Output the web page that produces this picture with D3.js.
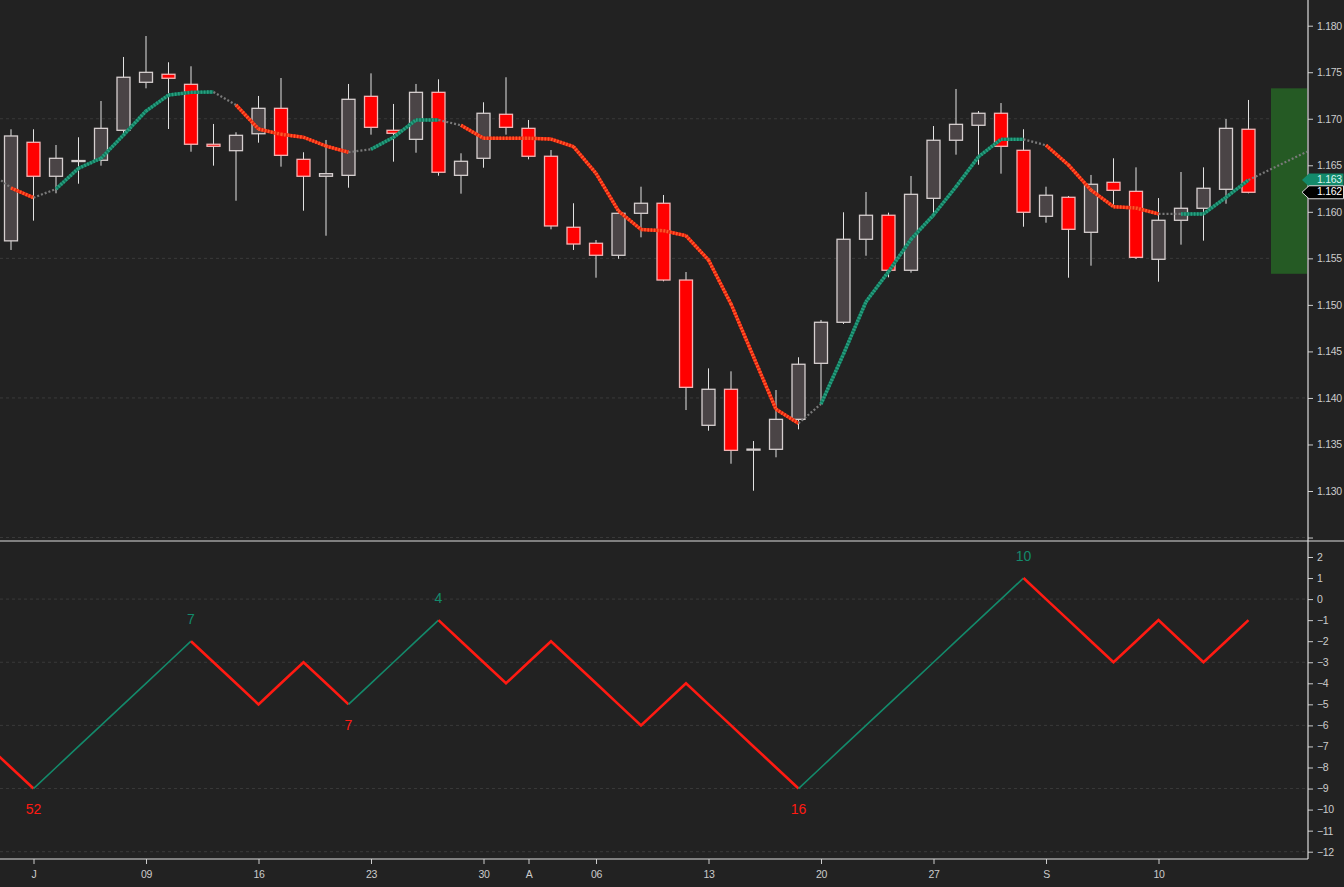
<!DOCTYPE html>
<html>
<head>
<meta charset="utf-8">
<script src="https://cdn.jsdelivr.net/npm/d3@7"></script>
<style>
  body { margin: 0; background: #222222; }
  svg { display: block; }
</style>
</head>
<body>
<div id="chart"></div>
<script>
// bar dates, index 0 = Jun 29 2018 (one earlier bar, Jun 28, only feeds the lines)
var dates = ["06-29",
  "07-02","07-03","07-04","07-05","07-06","07-09","07-10","07-11","07-12","07-13",
  "07-16","07-17","07-18","07-19","07-20","07-23","07-24","07-25","07-26","07-27",
  "07-30","07-31","08-01","08-02","08-03","08-06","08-07","08-08","08-09","08-10",
  "08-13","08-14","08-15","08-16","08-17","08-20","08-21","08-22","08-23","08-24",
  "08-27","08-28","08-29","08-30","08-31","09-03","09-04","09-05","09-06","09-07",
  "09-10","09-11","09-12","09-13","09-14"];

var opens = [1.15688,
  1.16747,1.16382,1.16541,1.16554,1.16876,1.17392,1.17478,1.17370,1.16726,1.16657,
  1.16839,1.17112,1.16564,1.16382,1.16392,1.17241,1.16876,1.16779,1.17284,1.16392,
  1.16575,1.17048,1.16897,1.16597,1.15834,1.15662,1.15533,1.15984,1.16092,1.15267,
  1.13706,1.14093,1.13440,1.13448,1.13770,1.14372,1.14813,1.15705,1.15963,1.15372,
  1.16145,1.16769,1.16930,1.17059,1.16661,1.15952,1.16156,1.15780,1.16317,1.16220,
  1.15490,1.15909,1.16038,1.16242,1.16887];
var highs = [1.16887,
  1.16887,1.16718,1.16801,1.17191,1.17664,1.17889,1.17607,1.17564,1.16944,1.16855,
  1.17245,1.17438,1.16640,1.16772,1.17374,1.17488,1.17159,1.17374,1.17424,1.16629,
  1.17177,1.17446,1.16987,1.16664,1.16092,1.15697,1.16020,1.16270,1.16181,1.15353,
  1.14318,1.14286,1.13537,1.14085,1.14437,1.14838,1.15995,1.16213,1.15991,1.16385,
  1.16922,1.17320,1.17083,1.17169,1.16887,1.16270,1.16170,1.16396,1.16575,1.16478,
  1.16148,1.16428,1.16478,1.16997,1.17202];
var lows = [1.15590,
  1.15905,1.16199,1.16302,1.16496,1.16826,1.17327,1.16890,1.16646,1.16496,1.16119,
  1.16743,1.16485,1.16012,1.15743,1.16259,1.16829,1.16539,1.16635,1.16388,1.16195,
  1.16474,1.16829,1.16564,1.15812,1.15590,1.15292,1.15496,1.15726,1.15253,1.13870,
  1.13648,1.13293,1.13003,1.13362,1.13663,1.13949,1.14795,1.15528,1.15296,1.15346,
  1.15941,1.16614,1.16506,1.16410,1.15840,1.15883,1.15292,1.15421,1.16055,1.15493,
  1.15249,1.15647,1.15690,1.16087,1.16199];
var closes = [1.16815,
  1.16382,1.16575,1.16551,1.16897,1.17446,1.17499,1.17435,1.16726,1.16704,1.16822,
  1.17112,1.16607,1.16382,1.16410,1.17209,1.16908,1.16844,1.17284,1.16425,1.16543,
  1.17059,1.16908,1.16597,1.15848,1.15654,1.15533,1.15984,1.16092,1.15267,1.14114,
  1.14093,1.13437,1.13450,1.13770,1.14362,1.14813,1.15705,1.15963,1.15372,1.16188,
  1.16769,1.16940,1.17059,1.16704,1.15995,1.16178,1.15812,1.16296,1.16231,1.15511,
  1.15909,1.16038,1.16253,1.16897,1.16210];

// moving average, first value belongs to bar -1 (Jun 28)
var maValues = [1.16444,
  1.16256,1.16152,1.16245,1.16468,1.16575,1.16825,1.17083,1.17255,1.17284,1.17288,
  1.17148,1.16890,1.16833,1.16801,1.16707,1.16640,1.16672,1.16801,1.16987,1.16987,
  1.16930,1.16790,1.16790,1.16790,1.16782,1.16700,1.16414,1.16009,1.15810,1.15797,
  1.15743,1.15482,1.15010,1.14443,1.13878,1.13727,1.13935,1.14472,1.15034,1.15357,
  1.15705,1.15966,1.16270,1.16592,1.16779,1.16779,1.16715,1.16503,1.16234,1.16055,
  1.16041,1.15977,1.15977,1.15977,1.16156,1.16342];
// colour state of each ma step into bar i: u = rising, d = falling, n = neutral
var maTrend = ["n","d","n","u","u","u","u","u","u","u","n","d","d","d","d","d","n","u","u","u",
  "n","d","d","d","d","d","d","d","d","d","d","d","d","d","d","d","n","u","u","u",
  "u","u","u","u","u","u","n","d","d","d","d","d","n","u","u","u"];
// projected ma, past the last bar
var maProjection = [[55, 1.16342], [57.6, 1.16646]];
// projected range box
var boxRange = {from: 56, to: 57.6, top: 1.17327, bottom: 1.15334};

// swing counter, first value belongs to bar -1
var oscValues = [-7,
  -8,-9,-8,-7,-6,-5,-4,-3,-2,-3,-4,-5,-4,-3,-4,-5,-4,-3,-2,-1,
  -2,-3,-4,-3,-2,-3,-4,-5,-6,-5,-4,-5,-6,-7,-8,-9,-8,-7,-6,-5,
  -4,-3,-2,-1,0,1,0,-1,-2,-3,-2,-1,-2,-3,-2,-1];
var swingIdx = [1, 8, 15, 19, 35, 45];
var swingType = ["low", "high", "low", "high", "low", "high"];
var swingLabels = ["52", "7", "7", "4", "16", "10"];

var priceTicks = [1.125, 1.130, 1.135, 1.140, 1.145, 1.150, 1.155, 1.160, 1.165, 1.170, 1.175, 1.180];
var priceTickLabels = ["", "1.130", "1.135", "1.140", "1.145", "1.150", "1.155", "1.160", "1.165", "1.170", "1.175", "1.180"];
var priceGrid = [1.170, 1.155, 1.140, 1.125];
var oscTicks = [2, 1, 0, -1, -2, -3, -4, -5, -6, -7, -8, -9, -10, -11, -12];
var oscGrid = [0, -3, -6, -9, -12];
var xTickIdx = [1, 6, 11, 16, 21, 23, 26, 31, 36, 41, 46, 51];
var xTickLabels = ["J", "09", "16", "23", "30", "A", "06", "13", "20", "27", "S", "10"];

var W = 1344, H = 887;
var axisX = 1308, sepY = 541, bottomY = 859;
var font = "'Liberation Sans', Arial, sans-serif";

var upFill = "#4a4446", upStroke = "#d6cfcf";
var downFill = "#ff0000", downStroke = "#f4b4b4";
var teal = "#138a6b", red = "#ff1a12";

var svg = d3.select("#chart")
  .append("svg")
    .attr("width", W)
    .attr("height", H)
    .style("font-family", font);

svg.append("rect").attr("width", W).attr("height", H).attr("fill", "#222222");

var x = d3.scaleLinear().domain([0, 55]).range([11, 1248.5]);
var yPrice = d3.scaleLinear().domain([1.130, 1.180]).range([491, 25.7]);
var yOsc = d3.scaleLinear().domain([-12, 2]).range([851.7, 557]);

var defs = svg.append("defs");
defs.append("clipPath").attr("id", "clipTop")
  .append("rect").attr("x", 0).attr("y", 0).attr("width", axisX).attr("height", sepY);
defs.append("clipPath").attr("id", "clipBot")
  .append("rect").attr("x", 0).attr("y", sepY).attr("width", axisX).attr("height", bottomY - sepY);

// grid lines
svg.append("g").selectAll("line").data(priceGrid).join("line")
  .attr("x1", 0).attr("x2", axisX)
  .attr("y1", function(d) { return yPrice(d); })
  .attr("y2", function(d) { return yPrice(d); })
  .attr("stroke", "#3a3a3a").attr("stroke-dasharray", "3,3");
svg.append("g").selectAll("line").data(oscGrid).join("line")
  .attr("x1", 0).attr("x2", axisX)
  .attr("y1", function(d) { return yOsc(d); })
  .attr("y2", function(d) { return yOsc(d); })
  .attr("stroke", "#3a3a3a").attr("stroke-dasharray", "3,3");

var pricePane = svg.append("g").attr("clip-path", "url(#clipTop)");

// projection box
pricePane.append("rect")
  .attr("x", x(boxRange.from))
  .attr("y", yPrice(boxRange.top))
  .attr("width", x(boxRange.to) - x(boxRange.from))
  .attr("height", yPrice(boxRange.bottom) - yPrice(boxRange.top))
  .attr("fill", "#255a24");

// candles
var candles = pricePane.append("g").selectAll("g").data(dates).join("g");
candles.append("line")
  .attr("x1", function(d, i) { return x(i); })
  .attr("x2", function(d, i) { return x(i); })
  .attr("y1", function(d, i) { return yPrice(highs[i]); })
  .attr("y2", function(d, i) { return yPrice(lows[i]); })
  .attr("stroke", "#e2e2e2").attr("stroke-width", 1);
candles.append("rect")
  .attr("x", function(d, i) { return x(i) - 6.5; })
  .attr("width", 13)
  .attr("y", function(d, i) { return yPrice(Math.max(opens[i], closes[i])); })
  .attr("height", function(d, i) { return Math.max(1, Math.abs(yPrice(opens[i]) - yPrice(closes[i]))); })
  .attr("fill", function(d, i) { return closes[i] >= opens[i] ? upFill : downFill; })
  .attr("stroke", function(d, i) { return closes[i] >= opens[i] ? upStroke : downStroke; })
  .attr("stroke-width", 1.3);

// moving average, one piece per step so each can take its trend colour
var maLine = d3.line()
  .x(function(d) { return x(d[0]); })
  .y(function(d) { return yPrice(d[1]); });

var maSteps = maTrend.map(function(t, i) {
  return {trend: t, pts: [[i - 1, maValues[i]], [i, maValues[i + 1]]]};
});
maSteps.push({trend: "n", pts: maProjection});

var maG = pricePane.append("g").attr("fill", "none").attr("stroke-linecap", "butt");
maSteps.forEach(function(s) {
  if (s.trend === "n") {
    maG.append("path").attr("d", maLine(s.pts))
      .attr("stroke", "#7a7a7a").attr("stroke-width", 2.2).attr("stroke-dasharray", "2,2");
  } else {
    var base = s.trend === "u" ? "#0f7a5d" : "#e8200e";
    var dots = s.trend === "u" ? "#2a9f80" : "#ff5a2a";
    maG.append("path").attr("d", maLine(s.pts))
      .attr("stroke", base).attr("stroke-width", 3.4);
    maG.append("path").attr("d", maLine(s.pts))
      .attr("stroke", dots).attr("stroke-width", 3.4).attr("stroke-dasharray", "1.6,1.6");
  }
});

// swing counter pane
var oscPane = svg.append("g").attr("clip-path", "url(#clipBot)");
var oscLine = d3.line()
  .x(function(d) { return x(d[0]); })
  .y(function(d) { return yOsc(d[1]); });

// legs between swing points: rising legs teal, falling legs red
var legEnds = [-1].concat(swingIdx).concat([55]);
for (var k = 0; k < legEnds.length - 1; k++) {
  var a = legEnds[k], b = legEnds[k + 1];
  var rising = k > 0 && swingType[k - 1] === "low";
  var pts = [];
  for (var j = a; j <= b; j++) pts.push([j, oscValues[j + 1]]);
  oscPane.append("path")
    .attr("d", oscLine(pts))
    .attr("fill", "none")
    .attr("stroke", rising ? teal : red)
    .attr("stroke-width", rising ? 1.6 : 2.6)
    .attr("stroke-linejoin", "miter");
}

oscPane.append("g").selectAll("text").data(swingIdx).join("text")
  .attr("x", function(d) { return x(d); })
  .attr("y", function(d, i) {
    var v = yOsc(oscValues[d + 1]);
    return swingType[i] === "high" ? v - 21 : v + 22;
  })
  .attr("text-anchor", "middle")
  .attr("dominant-baseline", "middle")
  .attr("font-size", 14)
  .attr("fill", function(d, i) { return swingType[i] === "high" ? teal : red; })
  .text(function(d, i) { return swingLabels[i]; });

// axes
var axisTop = svg.append("g")
  .attr("transform", "translate(" + axisX + ",0)")
  .call(d3.axisRight(yPrice).tickValues(priceTicks).tickSize(5).tickPadding(4)
    .tickFormat(function(d, i) { return priceTickLabels[i]; }));
var axisOsc = svg.append("g")
  .attr("transform", "translate(" + axisX + ",0)")
  .call(d3.axisRight(yOsc).tickValues(oscTicks).tickSize(5).tickPadding(4)
    .tickFormat(d3.format("d")));
var axisBot = svg.append("g")
  .attr("transform", "translate(0," + bottomY + ")")
  .call(d3.axisBottom(x).tickValues(xTickIdx).tickSize(5).tickPadding(7)
    .tickFormat(function(d, i) { return xTickLabels[i]; }));

[axisTop, axisOsc, axisBot].forEach(function(g) {
  g.select(".domain").remove();
  g.selectAll(".tick line").attr("stroke", "#cccccc");
  g.selectAll(".tick text").attr("fill", "#cccccc").attr("font-size", 10.5)
    .attr("letter-spacing", "-0.3px")
    .style("font-family", font);
});

// frame lines
svg.append("line").attr("x1", axisX).attr("x2", axisX).attr("y1", 0).attr("y2", bottomY)
  .attr("stroke", "#dddddd").attr("stroke-width", 1.2);
svg.append("line").attr("x1", 0).attr("x2", axisX).attr("y1", bottomY).attr("y2", bottomY)
  .attr("stroke", "#dddddd").attr("stroke-width", 1.2);
svg.append("line").attr("x1", 0).attr("x2", W).attr("y1", sepY).attr("y2", sepY)
  .attr("stroke", "#dddddd").attr("stroke-width", 1.2);

// last value flags
function flag(value, label, fill, stroke, textFill) {
  var cy = yPrice(value);
  var g = svg.append("g");
  g.append("path")
    .attr("d", "M" + (axisX - 6) + "," + cy + "L" + (axisX + 1) + "," + (cy - 6.5) +
      "L" + (W - 0.5) + "," + (cy - 6.5) + "L" + (W - 0.5) + "," + (cy + 6.5) +
      "L" + (axisX + 1) + "," + (cy + 6.5) + "Z")
    .attr("fill", fill).attr("stroke", stroke).attr("stroke-width", 1);
  g.append("text")
    .attr("x", axisX + 9).attr("y", cy)
    .attr("dominant-baseline", "middle")
    .attr("font-size", 10.5)
    .attr("letter-spacing", "-0.3px")
    .attr("fill", textFill)
    .text(label);
}
flag(maValues[maValues.length - 1], d3.format(".3f")(maValues[maValues.length - 1]), "#138a6b", "none", "#d8f4ef");
flag(closes[closes.length - 1], d3.format(".3f")(closes[closes.length - 1]), "#000000", "#dddddd", "#ffffff");
</script>
</body>
</html>
